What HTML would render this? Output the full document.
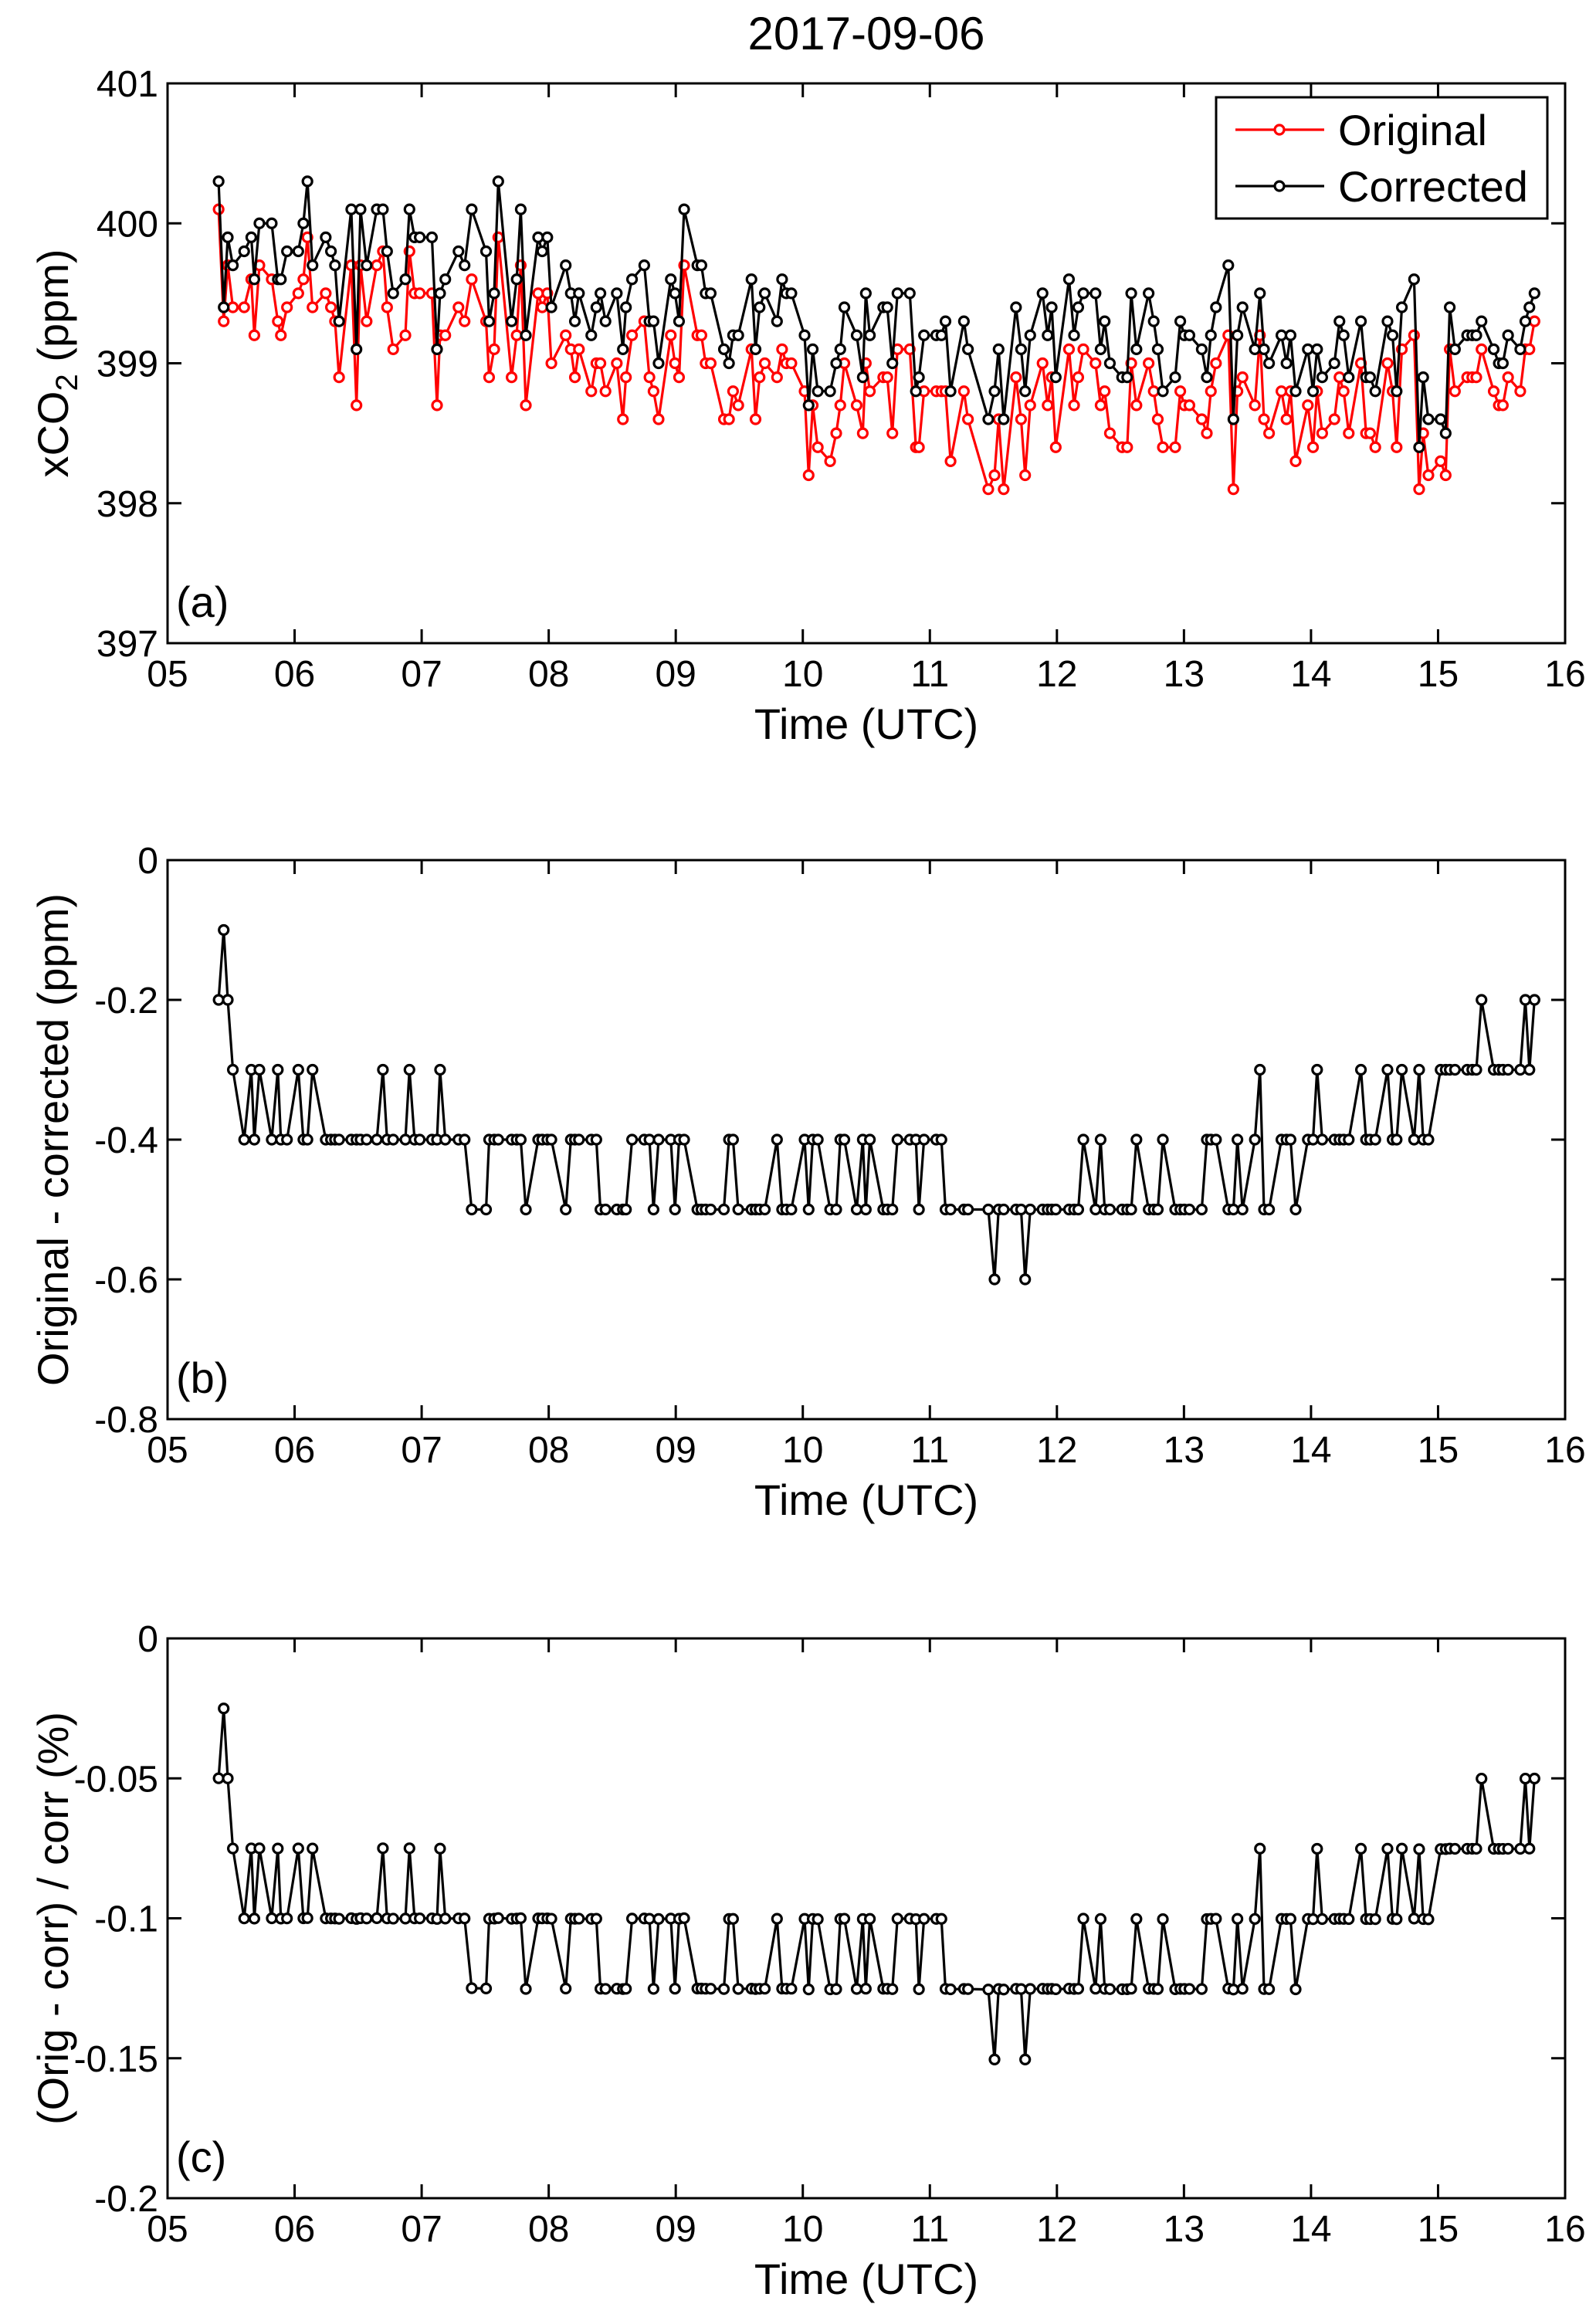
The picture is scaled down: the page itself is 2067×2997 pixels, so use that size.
<!DOCTYPE html>
<html><head><meta charset="utf-8"><style>
html,body{margin:0;padding:0;background:#fff;}
svg{display:block;font-family:"Liberation Sans",Arial,sans-serif;}
</style></head><body>
<svg id="fig" width="2067" height="2997" viewBox="0 0 2067 2997" xmlns="http://www.w3.org/2000/svg">
<rect width="2067" height="2997" fill="#fff"/>
<text x="1122" y="64" font-size="60" text-anchor="middle">2017-09-06</text>
<g id="root"></g>
</svg>
<script>
const times = [5.402,5.442,5.474,5.514,5.603,5.659,5.683,5.723,5.820,5.868,
5.892,5.940,6.029,6.069,6.101,6.141,6.245,6.286,6.318,6.350,
6.446,6.487,6.519,6.567,6.647,6.695,6.728,6.776,6.872,6.904,
6.944,6.985,7.081,7.121,7.145,7.186,7.290,7.338,7.394,7.507,
7.531,7.571,7.603,7.708,7.748,7.780,7.820,7.917,7.949,7.989,
8.021,8.134,8.174,8.206,8.238,8.335,8.375,8.407,8.447,8.536,
8.584,8.608,8.656,8.752,8.793,8.825,8.865,8.961,8.994,9.026,
9.066,9.170,9.202,9.235,9.275,9.379,9.419,9.451,9.492,9.596,
9.628,9.660,9.701,9.797,9.837,9.869,9.910,10.014,10.046,10.078,
10.118,10.215,10.263,10.295,10.327,10.424,10.472,10.496,10.528,10.633,
10.665,10.705,10.745,10.842,10.890,10.914,10.954,11.050,11.091,11.123,
11.163,11.268,11.300,11.460,11.509,11.541,11.581,11.678,11.718,11.750,
11.790,11.887,11.927,11.959,11.991,12.095,12.135,12.168,12.208,12.304,
12.344,12.376,12.417,12.513,12.553,12.585,12.626,12.722,12.762,12.794,
12.834,12.931,12.971,13.003,13.043,13.140,13.180,13.212,13.252,13.349,
13.389,13.421,13.461,13.558,13.598,13.630,13.670,13.767,13.807,13.839,
13.879,13.975,14.016,14.048,14.088,14.184,14.224,14.257,14.297,14.393,
14.433,14.465,14.506,14.602,14.642,14.674,14.715,14.811,14.851,14.883,
14.924,15.020,15.060,15.092,15.133,15.229,15.269,15.301,15.342,15.438,
15.478,15.510,15.551,15.647,15.687,15.719,15.759];
const corrected = [400.3,399.4,399.9,399.7,399.8,399.9,399.6,400.0,400.0,399.6,
399.6,399.8,399.8,400.0,400.3,399.7,399.9,399.8,399.7,399.3,
400.1,399.1,400.1,399.7,400.1,400.1,399.8,399.5,399.6,400.1,
399.9,399.9,399.9,399.1,399.5,399.6,399.8,399.7,400.1,399.8,
399.3,399.5,400.3,399.3,399.6,400.1,399.2,399.9,399.8,399.9,
399.4,399.7,399.5,399.3,399.5,399.2,399.4,399.5,399.3,399.5,
399.1,399.4,399.6,399.7,399.3,399.3,399.0,399.6,399.5,399.3,
400.1,399.7,399.7,399.5,399.5,399.1,399.0,399.2,399.2,399.6,
399.1,399.4,399.5,399.3,399.6,399.5,399.5,399.2,398.7,399.1,
398.8,398.8,399.0,399.1,399.4,399.2,398.9,399.5,399.2,399.4,
399.4,399.0,399.5,399.5,398.8,398.9,399.2,399.2,399.2,399.3,
398.8,399.3,399.1,398.6,398.8,399.1,398.6,399.4,399.1,398.8,
399.2,399.5,399.2,399.4,398.9,399.6,399.2,399.4,399.5,399.5,
399.1,399.3,399.0,398.9,398.9,399.5,399.1,399.5,399.3,399.1,
398.8,398.9,399.3,399.2,399.2,399.1,398.9,399.2,399.4,399.7,
398.6,399.2,399.4,399.1,399.5,399.1,399.0,399.2,399.0,399.2,
398.8,399.1,398.8,399.1,398.9,399.0,399.3,399.2,398.9,399.3,
398.9,398.9,398.8,399.3,399.2,398.8,399.4,399.6,398.4,398.9,
398.6,398.6,398.5,399.4,399.1,399.2,399.2,399.2,399.3,399.1,
399.0,399.0,399.2,399.1,399.3,399.4,399.5];
const diffs = [-0.2,-0.1,-0.2,-0.3,-0.4,-0.3,-0.4,-0.3,-0.4,-0.3,
-0.4,-0.4,-0.3,-0.4,-0.4,-0.3,-0.4,-0.4,-0.4,-0.4,
-0.4,-0.4,-0.4,-0.4,-0.4,-0.3,-0.4,-0.4,-0.4,-0.3,
-0.4,-0.4,-0.4,-0.4,-0.3,-0.4,-0.4,-0.4,-0.5,-0.5,
-0.4,-0.4,-0.4,-0.4,-0.4,-0.4,-0.5,-0.4,-0.4,-0.4,
-0.4,-0.5,-0.4,-0.4,-0.4,-0.4,-0.4,-0.5,-0.5,-0.5,
-0.5,-0.5,-0.4,-0.4,-0.4,-0.5,-0.4,-0.4,-0.5,-0.4,
-0.4,-0.5,-0.5,-0.5,-0.5,-0.5,-0.4,-0.4,-0.5,-0.5,
-0.5,-0.5,-0.5,-0.4,-0.5,-0.5,-0.5,-0.4,-0.5,-0.4,
-0.4,-0.5,-0.5,-0.4,-0.4,-0.5,-0.4,-0.5,-0.4,-0.5,
-0.5,-0.5,-0.4,-0.4,-0.4,-0.5,-0.4,-0.4,-0.4,-0.5,
-0.5,-0.5,-0.5,-0.5,-0.6,-0.5,-0.5,-0.5,-0.5,-0.6,
-0.5,-0.5,-0.5,-0.5,-0.5,-0.5,-0.5,-0.5,-0.4,-0.5,
-0.4,-0.5,-0.5,-0.5,-0.5,-0.5,-0.4,-0.5,-0.5,-0.5,
-0.4,-0.5,-0.5,-0.5,-0.5,-0.5,-0.4,-0.4,-0.4,-0.5,
-0.5,-0.4,-0.5,-0.4,-0.3,-0.5,-0.5,-0.4,-0.4,-0.4,
-0.5,-0.4,-0.4,-0.3,-0.4,-0.4,-0.4,-0.4,-0.4,-0.3,
-0.4,-0.4,-0.4,-0.3,-0.4,-0.4,-0.3,-0.4,-0.3,-0.4,
-0.4,-0.3,-0.3,-0.3,-0.3,-0.3,-0.3,-0.3,-0.2,-0.3,
-0.3,-0.3,-0.3,-0.3,-0.2,-0.3,-0.2];
const xTicks = ["05","06","07","08","09","10","11","12","13","14","15","16"];
const yTicksA = [397,398,399,400,401];
const yTicksB = [-0.8,-0.6,-0.4,-0.2,0];
const yTicksC = [-0.2,-0.15,-0.1,-0.05,0];
const yLabelsC = ["-0.2","-0.15","-0.1","-0.05","0"];

const NS = "http://www.w3.org/2000/svg";
const root = document.getElementById('root');
const X0 = 217, X1 = 2027;
function xs(h){ return X0 + (h-5)/11*(X1-X0); }
function mk(tag, attrs, parent){ const e=document.createElementNS(NS,tag); for(const k in attrs) e.setAttribute(k,attrs[k]); (parent||root).appendChild(e); return e; }

const original = corrected.map((c,i)=>Math.round((c+diffs[i])*10)/10);
const pct = diffs.map((d,i)=>d/corrected[i]*100);

function panel(name, top, bot, ymin, ymax, ticks, tickLabels, label, letter){
  const g = mk('g',{});
  
  
  const ys = v => bot - (v-ymin)/(ymax-ymin)*(bot-top);
  const box = mk('rect',{x:X0,y:top,width:X1-X0,height:bot-top,fill:'none',stroke:'#000','stroke-width':3},g);
  
  
  xTicks.forEach((t,i)=>{
    const x = xs(5+i);
    mk('line',{x1:x,x2:x,y1:bot,y2:bot-18,stroke:'#000','stroke-width':3},g);
    mk('line',{x1:x,x2:x,y1:top,y2:top+18,stroke:'#000','stroke-width':3},g);
    const tx = mk('text',{x:x,y:bot+56,'font-size':48,'text-anchor':'middle'},g);
    tx.textContent = t;
    
    
  });
  ticks.forEach((v,i)=>{
    const y = ys(v);
    mk('line',{x1:X0,x2:X0+18,y1:y,y2:y,stroke:'#000','stroke-width':3},g);
    mk('line',{x1:X1,x2:X1-18,y1:y,y2:y,stroke:'#000','stroke-width':3},g);
    const ty = mk('text',{x:X0-12,y:y+17,'font-size':48,'text-anchor':'end'},g);
    ty.textContent = tickLabels[i];
    
    
  });
  const xl = mk('text',{x:(X0+X1)/2,y:bot+124,'font-size':56,'text-anchor':'middle'},g);
  xl.textContent = 'Time (UTC)';
  
  
  const pl = mk('text',{x:228,y:bot-34,'font-size':56},g);
  pl.textContent = letter;
  
  
  const yl = mk('text',{x:0,y:0,'font-size':56,'text-anchor':'middle',transform:`translate(88,${(top+bot)/2}) rotate(-90)`},g);
  
  
  if (Array.isArray(label)) {
    const a = mk('tspan',{},yl); a.textContent = label[0];
    const b = mk('tspan',{dy:12,'font-size':40},yl); b.textContent = label[1];
    const c = mk('tspan',{dy:-12},yl); c.textContent = label[2];
  } else yl.textContent = label;
  return {g, ys};
}
function series(g, name, vals, ys, color){
  const pts = times.map((t,i)=>xs(t).toFixed(1)+','+ys(vals[i]).toFixed(1)).join(' ');
  const pl = mk('polyline',{points:pts,fill:'none',stroke:color,'stroke-width':3.2,'stroke-linejoin':'round'},g);
  
  
  times.forEach((t,i)=>{
    const c = mk('circle',{cx:xs(t),cy:ys(vals[i]),r:6,fill:'#fff',stroke:color,'stroke-width':3.2},g);
    
    
  });
}
const A = panel('panel-a-xco2',108,833,397,401,yTicksA,yTicksA.map(String),['xCO','2',' (ppm)'],'(a)');
series(A.g,'original',original,A.ys,'#ff0000');
series(A.g,'corrected',corrected,A.ys,'#000000');
const lg = mk('g',{},A.g);


mk('rect',{x:1575,y:126,width:429,height:157,fill:'#fff',stroke:'#000','stroke-width':3},lg);
[['Original','#ff0000',168],['Corrected','#000',241]].forEach(([n,c,y])=>{
  const e = mk('g',{},lg);
  
  
  mk('line',{x1:1600,x2:1715,y1:y,y2:y,stroke:c,'stroke-width':3.2},e);
  mk('circle',{cx:1657,cy:y,r:6,fill:'#fff',stroke:c,'stroke-width':3.2},e);
  const t = mk('text',{x:1733,y:y+20,'font-size':56},e); t.textContent = n;
});
const B = panel('panel-b-difference',1114,1838,-0.8,0,yTicksB,yTicksB.map(v=>v===0?'0':String(v)),'Original - corrected (ppm)','(b)');
series(B.g,'difference',diffs,B.ys,'#000');
const C = panel('panel-c-percent',2122,2847,-0.2,0,yTicksC,yLabelsC,'(Orig - corr) / corr (%)','(c)');
series(C.g,'percent-difference',pct,C.ys,'#000');
</script>
</body></html>
